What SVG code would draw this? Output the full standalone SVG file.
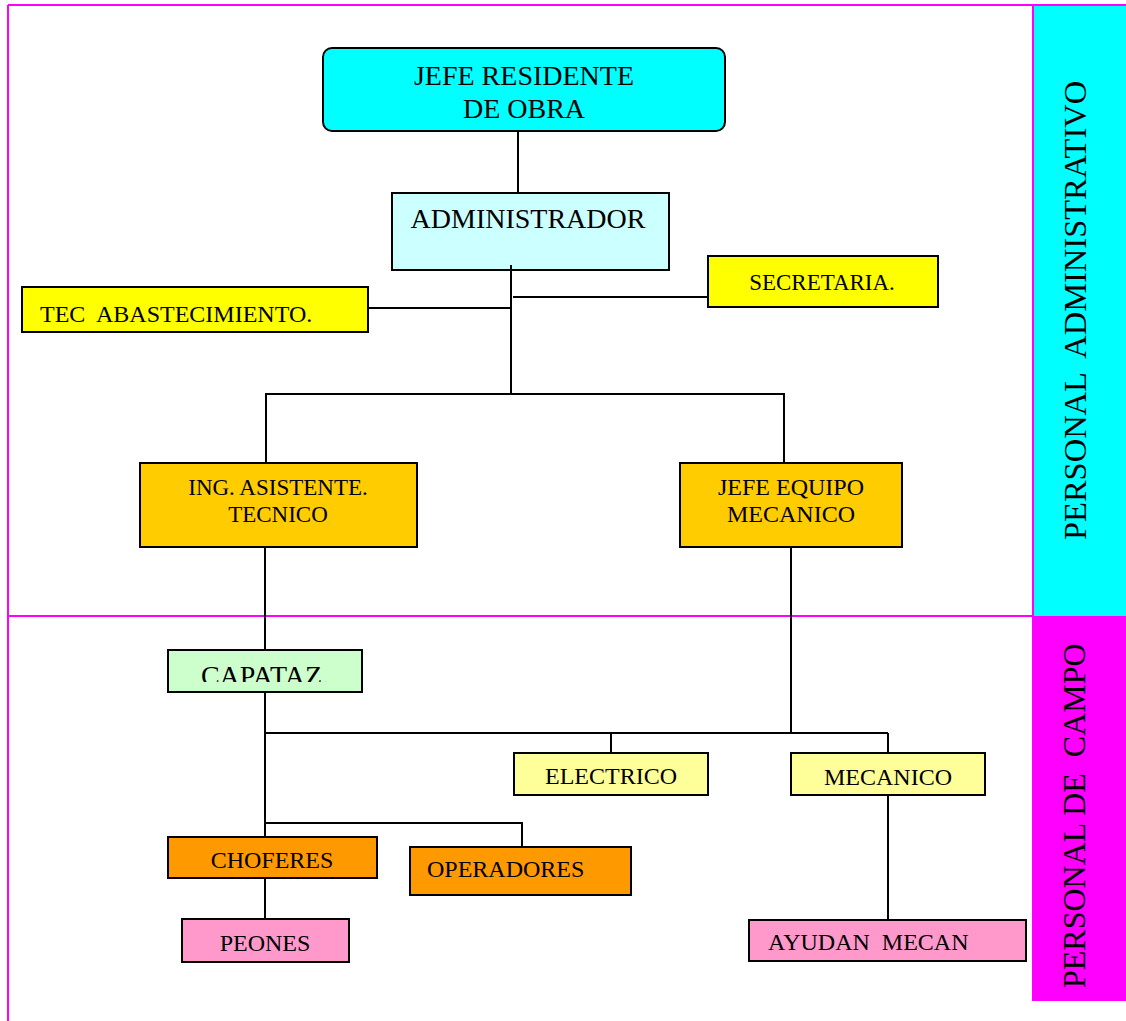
<svg xmlns="http://www.w3.org/2000/svg" width="1126" height="1021" viewBox="0 0 1126 1021">
  <style>
    text { font-family: "Liberation Serif", "Times New Roman", serif; fill: #000; }
    .box { stroke: #000; stroke-width: 2; }
    .frame { stroke: #FF00FF; stroke-width: 2; fill: none; }
    .link { stroke: #000; stroke-width: 2; fill: none; }
    .t24 { font-size: 24px; }
  </style>
  <defs>
    <clipPath id="capatazClip">
      <rect x="168" y="650" width="194" height="32"/>
    </clipPath>
  </defs>

  <rect width="1126" height="1021" fill="#FFFFFF"/>

  <!-- side bands -->
  <g id="band-admin">
    <rect x="1034" y="6" width="92" height="610" fill="#00FFFF"/>
    <text x="1086" y="540" font-size="32.5" transform="rotate(-90 1086 540)" xml:space="preserve">PERSONAL  ADMINISTRATIVO</text>
  </g>
  <g id="band-campo">
    <rect x="1033" y="616" width="93" height="385" fill="#FF00FF"/>
    <text x="1085" y="988" font-size="32" transform="rotate(-90 1085 988)" xml:space="preserve">PERSONAL DE  CAMPO</text>
  </g>

  <!-- frame lines -->
  <g id="frame">
    <line class="frame" x1="8" y1="5" x2="1126" y2="5"/>
    <line class="frame" x1="8" y1="5" x2="8" y2="1021"/>
    <line class="frame" x1="8" y1="616" x2="1033" y2="616"/>
    <line class="frame" x1="1033" y1="5" x2="1033" y2="1001"/>
  </g>

  <g id="jefe-residente">
    <rect class="box" x="323" y="48" width="402" height="83" rx="9" fill="#00FFFF"/>
    <text x="524" y="85" font-size="28" text-anchor="middle">JEFE RESIDENTE</text>
    <text x="524" y="118" font-size="28" text-anchor="middle">DE OBRA</text>
  </g>

  <g id="administrador">
    <rect class="box" x="392" y="193" width="277" height="77" fill="#CCFFFF"/>
    <text x="528" y="228" font-size="28" text-anchor="middle">ADMINISTRADOR</text>
  </g>

  <g id="secretaria">
    <rect class="box" x="708" y="256" width="230" height="51" fill="#FFFF00"/>
    <text x="822" y="290" font-size="23" text-anchor="middle">SECRETARIA.</text>
  </g>

  <g id="tec-abastecimiento">
    <rect class="box" x="22" y="287" width="346" height="45" fill="#FFFF00"/>
    <text x="40" y="322" class="t24" xml:space="preserve">TEC  ABASTECIMIENTO.</text>
  </g>

  <g id="ing-asistente">
    <rect class="box" x="140" y="463" width="277" height="84" fill="#FFCC00"/>
    <text x="278" y="495" font-size="23" text-anchor="middle">ING. ASISTENTE.</text>
    <text x="278" y="522" font-size="23" text-anchor="middle">TECNICO</text>
  </g>

  <g id="jefe-equipo">
    <rect class="box" x="680" y="463" width="222" height="84" fill="#FFCC00"/>
    <text x="791" y="495" class="t24" text-anchor="middle">JEFE EQUIPO</text>
    <text x="791" y="522" class="t24" text-anchor="middle">MECANICO</text>
  </g>

  <g id="capataz">
    <rect class="box" x="168" y="650" width="194" height="42" fill="#CCFFCC"/>
    <text x="265" y="685" font-size="28" text-anchor="middle" clip-path="url(#capatazClip)">CAPATAZ.</text>
  </g>

  <g id="electrico">
    <rect class="box" x="514" y="753" width="194" height="42" fill="#FFFF99"/>
    <text x="611" y="784" class="t24" text-anchor="middle">ELECTRICO</text>
  </g>

  <g id="mecanico">
    <rect class="box" x="791" y="753" width="194" height="42" fill="#FFFF99"/>
    <text x="888" y="785" class="t24" text-anchor="middle">MECANICO</text>
  </g>

  <g id="choferes">
    <rect class="box" x="168" y="837" width="209" height="41" fill="#FF9900"/>
    <text x="272" y="868" class="t24" text-anchor="middle">CHOFERES</text>
  </g>

  <g id="operadores">
    <rect class="box" x="410" y="847" width="221" height="48" fill="#FF9900"/>
    <text x="427" y="877" class="t24">OPERADORES</text>
  </g>

  <g id="peones">
    <rect class="box" x="182" y="919" width="167" height="43" fill="#FF99CC"/>
    <text x="265" y="951" class="t24" text-anchor="middle">PEONES</text>
  </g>

  <g id="ayudan-mecan">
    <rect class="box" x="749" y="920" width="277" height="41" fill="#FF99CC"/>
    <text x="768" y="950" class="t24" xml:space="preserve">AYUDAN  MECAN</text>
  </g>

  <!-- connectors, drawn over the box edges -->
  <g id="connectors">
    <line class="link" x1="518" y1="132" x2="518" y2="192"/>
    <line class="link" x1="511" y1="265" x2="511" y2="394"/>
    <line class="link" x1="513" y1="297" x2="707" y2="297"/>
    <line class="link" x1="369" y1="308" x2="511" y2="308"/>
    <polyline class="link" points="266,462 266,394 784,394 784,462"/>
    <line class="link" x1="265" y1="548" x2="265" y2="649"/>
    <line class="link" x1="791" y1="548" x2="791" y2="733"/>
    <line class="link" x1="265" y1="693" x2="265" y2="836"/>
    <line class="link" x1="265" y1="733" x2="888" y2="733"/>
    <line class="link" x1="611" y1="733" x2="611" y2="752"/>
    <line class="link" x1="888" y1="733" x2="888" y2="752"/>
    <polyline class="link" points="265,823 522,823 522,846"/>
    <line class="link" x1="265" y1="879" x2="265" y2="918"/>
    <line class="link" x1="888" y1="796" x2="888" y2="919"/>
  </g>
</svg>
